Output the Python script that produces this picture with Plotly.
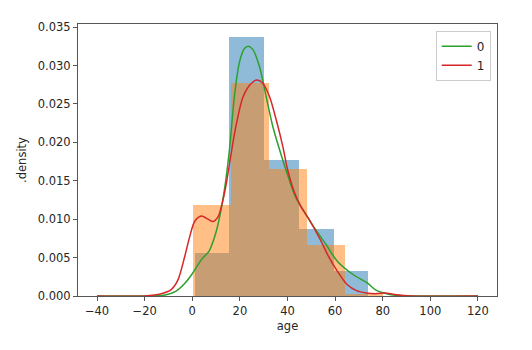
import plotly.graph_objects as go

# Histogram bins (density-normalised) for each group
edges_0 = [1.0, 15.6, 30.2, 44.8, 59.4, 74.0]
dens_0 = [0.0056, 0.0337, 0.01765, 0.0087, 0.00326]
edges_1 = [0.42, 16.34, 32.25, 48.17, 64.08, 80.0]
dens_1 = [0.0119, 0.02775, 0.01653, 0.0066, 0.0002]

# Kernel density curves
kde_x_0 = [-40, -20, -12, -7, -3, 0, 4, 7, 9.5, 11.5, 13.5, 15.6, 17.7, 19.8,
           21.9, 23.6, 25.4, 28.2, 31, 33.8, 36.9, 40, 43.5, 47, 51, 56, 61,
           68, 73.5, 77, 80.5, 85, 95, 120]
kde_y_0 = [0, 0, 0.0001, 0.0006, 0.0017, 0.0029, 0.0048, 0.0058, 0.0078, 0.0103,
           0.0138, 0.019, 0.026, 0.0304, 0.0322, 0.0325, 0.0321, 0.0299, 0.026,
           0.0221, 0.0188, 0.0158, 0.0128, 0.011, 0.009, 0.0068, 0.0045, 0.0027,
           0.0017, 0.0008, 0.0004, 0.0001, 0, 0]
kde_x_1 = [-40, -20, -13, -9, -6, -3.2, -1.1, 1, 3.8, 6.6, 8.7, 10.8, 12.9, 14.5,
           16.3, 18.4, 21.2, 24, 27.1, 29.6, 32.4, 35.2, 38, 40, 43, 45.7, 49, 54,
           57, 61, 65, 69, 73, 77, 81, 85, 92, 120]
kde_y_1 = [0, 0, 0.0003, 0.0008, 0.0021, 0.0051, 0.0077, 0.0097, 0.0104, 0.0100,
           0.0097, 0.0103, 0.0125, 0.0150, 0.0185, 0.0222, 0.0258, 0.0274, 0.0281,
           0.0277, 0.0260, 0.0230, 0.0195, 0.0165, 0.0134, 0.0116, 0.0100, 0.0072,
           0.0053, 0.0032, 0.0015, 0.0007, 0.0004, 0.0003, 0.0004, 0.0002, 0, 0]

x_ticks = [-40, -20, 0, 20, 40, 60, 80, 100, 120]
y_ticks = [0.000, 0.005, 0.010, 0.015, 0.020, 0.025, 0.030, 0.035]


def centers(e):
    return [(a + b) / 2 for a, b in zip(e[:-1], e[1:])]


def widths(e):
    return [b - a for a, b in zip(e[:-1], e[1:])]


fig = go.Figure()
fig.add_trace(go.Bar(x=centers(edges_0), y=dens_0, width=widths(edges_0),
                     marker=dict(color="rgba(31,119,180,0.5)", line=dict(width=0)),
                     showlegend=False, hoverinfo="skip"))
fig.add_trace(go.Bar(x=centers(edges_1), y=dens_1, width=widths(edges_1),
                     marker=dict(color="rgba(255,127,14,0.5)", line=dict(width=0)),
                     showlegend=False, hoverinfo="skip"))
fig.add_trace(go.Scatter(x=kde_x_0, y=kde_y_0, mode="lines", name="0",
                         line=dict(color="#2ca02c", width=1.5, shape="spline", smoothing=0.8)))
fig.add_trace(go.Scatter(x=kde_x_1, y=kde_y_1, mode="lines", name="1",
                         line=dict(color="#d62728", width=1.5, shape="spline", smoothing=0.8)))

axis_common = dict(showline=True, linecolor="#555", linewidth=1, mirror=True,
                   ticks="outside", ticklen=4, tickwidth=1, tickcolor="#555",
                   showgrid=False, zeroline=False,
                   tickfont=dict(family="DejaVu Sans", size=11.5, color="#262626"))

fig.update_layout(
    width=532, height=350,
    margin=dict(l=78, r=35, t=24, b=54),
    paper_bgcolor="white", plot_bgcolor="white",
    barmode="overlay", bargap=0,
    font=dict(family="DejaVu Sans", size=11.5, color="#262626"),
    xaxis=dict(range=[-48, 128], tickvals=x_ticks,
               title=dict(text="age", standoff=5, font=dict(size=11.5)), **axis_common),
    yaxis=dict(range=[0, 0.0354], tickvals=y_ticks, tickformat=".3f",
               title=dict(text=".density", standoff=8, font=dict(size=11.5)), **axis_common),
    legend=dict(x=0.985, y=0.975, xanchor="right", yanchor="top",
                bgcolor="rgba(255,255,255,0.8)", bordercolor="#ccc", borderwidth=1,
                font=dict(size=12), tracegroupgap=0),
)

fig.write_html("out.html")
